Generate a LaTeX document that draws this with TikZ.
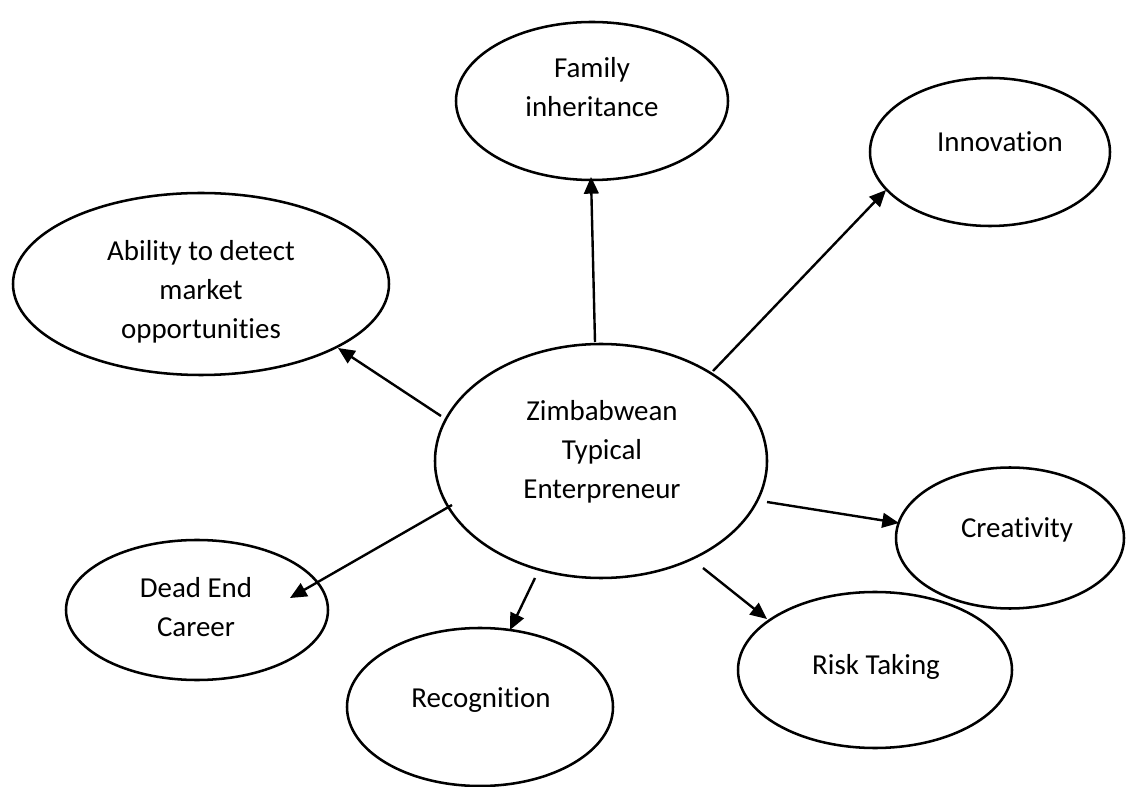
\documentclass[tikz,border=0pt]{standalone}
\usepackage{fontspec}
\setmainfont{Carlito}[Ligatures=NoCommon]
\usetikzlibrary{arrows.meta,shapes.geometric,calc}
\begin{document}
\begin{tikzpicture}[x=0.75pt,y=-0.75pt,
  bub/.style={draw,ellipse,line width=1.9pt,inner sep=0pt},
  txt/.style={align=center,font=\fontsize{21.7}{29.3}\selectfont,inner sep=0pt,anchor=base},
  arr/.style={line width=1.8pt,-{Triangle[length=12.5pt,width=11pt]}}]
\useasboundingbox (0,0) rectangle (1132,787);
% bubbles
\node[bub,minimum width=249pt,minimum height=175.5pt] (c) at (601,461) {};
\node[bub,minimum width=204pt,minimum height=118.5pt] (fam) at (592,101) {};
\node[bub,minimum width=180pt,minimum height=111pt] (inn) at (990,152) {};
\node[bub,minimum width=282pt,minimum height=136.5pt] (ab) at (201,284) {};
\node[bub,minimum width=171pt,minimum height=105.75pt] (cr) at (1010,538) {};
\node[bub,minimum width=196.5pt,minimum height=105pt] (de) at (197,610) {};
\node[bub,minimum width=199.5pt,minimum height=118.5pt] (rc) at (480,707) {};
\node[bub,minimum width=205.5pt,minimum height=117pt] (rk) at (875,670) {};
% texts (anchored on the baseline of the last line)
\node[txt] (ct) at (602,499) {Zimbabwean\\Typical\\Enterpreneur};
\node[txt] (famt) at (592,117) {Family\\inheritance};
\node[txt] (innt) at (1000,152) {Innovation};
\node[txt] (abt) at (201,339) {Ability to detect\\market\\opportunities};
\node[txt] (crt) at (1017,538) {Creativity};
\node[txt] (det) at (196,637) {Dead End\\Career};
\node[txt] (rct) at (481,707) {Recognition};
\node[txt] (rkt) at (876,674) {Risk Taking};
% connectors
\draw[arr] ($(c)+(-6,-119)$) -- ($(fam)+(-1,76)$);
\draw[arr] ($(c)+(112,-90)$) -- ($(inn)+(-104,38)$);
\draw[arr] ($(c)+(-160,-45)$) -- ($(ab)+(137,64)$);
\draw[arr] ($(c)+(-149,44)$) -- ($(de)+(93,-12)$);
\draw[arr] ($(c)+(-66,117)$) -- ($(rc)+(30,-77)$);
\draw[arr] ($(c)+(166,41)$) -- ($(cr)+(-111,-15)$);
\draw[arr] ($(c)+(102,107)$) -- ($(rk)+(-108,-51)$);
\end{tikzpicture}
\end{document}
